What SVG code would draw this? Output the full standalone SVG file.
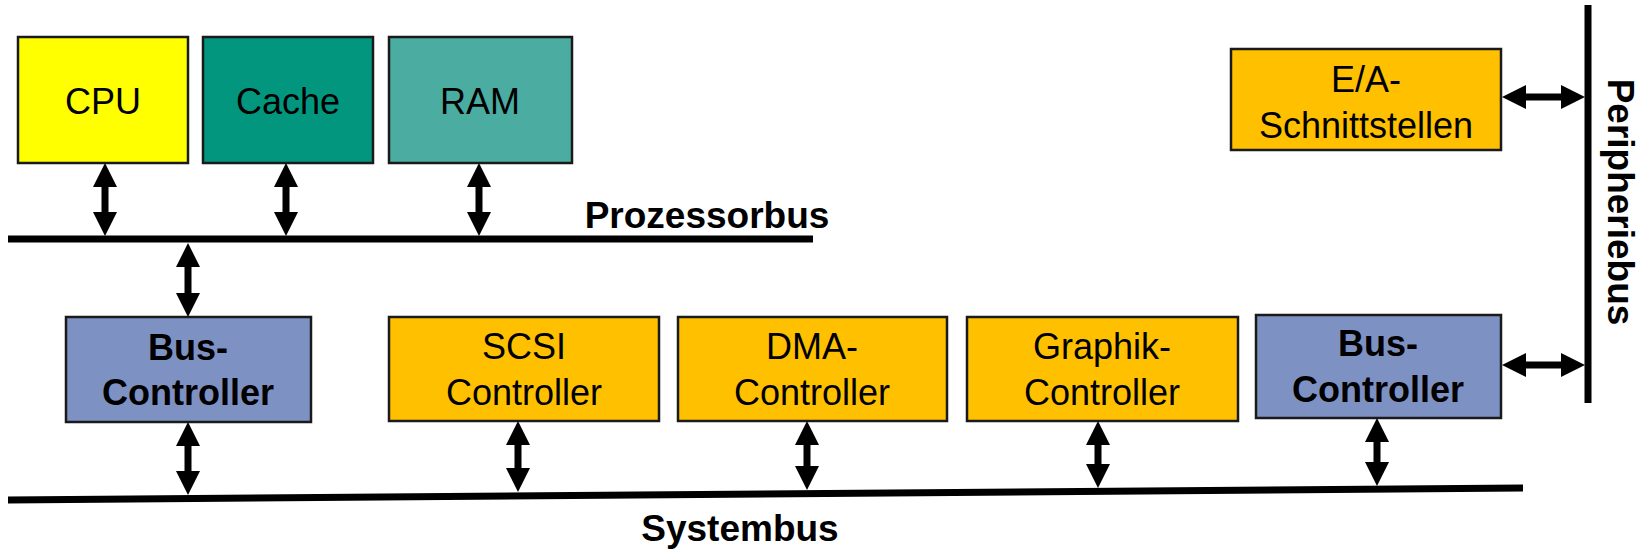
<svg xmlns="http://www.w3.org/2000/svg" width="1645" height="555" viewBox="0 0 1645 555">
  <style>
    .box { stroke: #1a1a1a; stroke-width: 2.5; }
    .lbl { font-family: "Liberation Sans", Arial, sans-serif; font-size: 36px; fill: #000; text-anchor: middle; }
    .bold { font-weight: bold; }
    .buslbl { font-size: 37px; }
    .bus { stroke: #000; stroke-width: 7; fill: none; }
    .arr { stroke: #000; stroke-width: 7; fill: none; marker-start: url(#head); marker-end: url(#head); }
  </style>
  <defs>
    <marker id="head" markerUnits="userSpaceOnUse" markerWidth="24" markerHeight="24" refX="0" refY="12" orient="auto-start-reverse" viewBox="0 0 24 24">
      <path d="M0,0 L24,12 L0,24 Z" fill="#000"/>
    </marker>
  </defs>

  <!-- Processor bus components -->
  <g id="cpu">
    <rect class="box" x="18" y="37" width="170" height="126" fill="#FFFF00"/>
    <text class="lbl" x="103" y="114">CPU</text>
  </g>
  <g id="cache">
    <rect class="box" x="203" y="37" width="170" height="126" fill="#03967F"/>
    <text class="lbl" x="288" y="114">Cache</text>
  </g>
  <g id="ram">
    <rect class="box" x="389" y="37" width="183" height="126" fill="#4BADA1"/>
    <text class="lbl" x="480" y="114">RAM</text>
  </g>

  <!-- System bus components -->
  <g id="bus-controller-1">
    <rect class="box" x="66" y="317" width="245" height="105" fill="#7E91C3"/>
    <text class="lbl bold" x="188" y="360">Bus-</text>
    <text class="lbl bold" x="188" y="405">Controller</text>
  </g>
  <g id="scsi-controller">
    <rect class="box" x="389" y="317" width="270" height="104" fill="#FFC000"/>
    <text class="lbl" x="524" y="359">SCSI</text>
    <text class="lbl" x="524" y="405">Controller</text>
  </g>
  <g id="dma-controller">
    <rect class="box" x="678" y="317" width="269" height="104" fill="#FFC000"/>
    <text class="lbl" x="812" y="359">DMA-</text>
    <text class="lbl" x="812" y="405">Controller</text>
  </g>
  <g id="graphik-controller">
    <rect class="box" x="967" y="317" width="271" height="104" fill="#FFC000"/>
    <text class="lbl" x="1102" y="359">Graphik-</text>
    <text class="lbl" x="1102" y="405">Controller</text>
  </g>
  <g id="bus-controller-2">
    <rect class="box" x="1256" y="315" width="245" height="103" fill="#7E91C3"/>
    <text class="lbl bold" x="1378" y="356">Bus-</text>
    <text class="lbl bold" x="1378" y="402">Controller</text>
  </g>

  <!-- Peripheral bus component -->
  <g id="ea-schnittstellen">
    <rect class="box" x="1231" y="49" width="270" height="101" fill="#FFC000"/>
    <text class="lbl" x="1366" y="92">E/A-</text>
    <text class="lbl" x="1366" y="138">Schnittstellen</text>
  </g>

  <!-- Buses and connectors -->
  <g id="connectors">
    <line class="bus" x1="8" y1="239" x2="813" y2="239"/>
    <line class="bus" x1="8" y1="500" x2="1523" y2="488"/>
    <line class="bus" x1="1588" y1="5" x2="1588" y2="403"/>

    <line class="arr" x1="105" y1="187" x2="105" y2="212"/>
    <line class="arr" x1="286" y1="187" x2="286" y2="212"/>
    <line class="arr" x1="479" y1="187" x2="479" y2="212"/>
    <line class="arr" x1="188" y1="267" x2="188" y2="293"/>

    <line class="arr" x1="188" y1="446" x2="188" y2="471"/>
    <line class="arr" x1="518" y1="445" x2="518" y2="468"/>
    <line class="arr" x1="807" y1="445" x2="807" y2="466"/>
    <line class="arr" x1="1098" y1="445" x2="1098" y2="464"/>
    <line class="arr" x1="1377" y1="442" x2="1377" y2="462"/>

    <line class="arr" x1="1526" y1="97" x2="1561" y2="97"/>
    <line class="arr" x1="1526" y1="365" x2="1561" y2="365"/>
  </g>

  <!-- Bus labels -->
  <g id="labels">
    <text class="lbl bold buslbl" x="707" y="228">Prozessorbus</text>
    <text class="lbl bold buslbl" x="740" y="541">Systembus</text>
    <text class="lbl bold buslbl" transform="translate(1608,202) rotate(90)" x="0" y="0">Peripheriebus</text>
  </g>
</svg>
